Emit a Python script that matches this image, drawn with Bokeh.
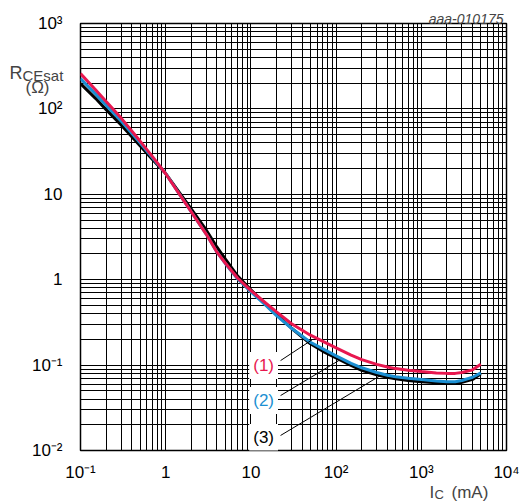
from bokeh.plotting import figure
from bokeh.models import FixedTicker, Label, Range1d
from bokeh.embed import file_html
from bokeh.resources import INLINE

# Collector current I_C (mA)
ic = [0.1, 0.15, 0.2, 0.3, 0.5, 0.7, 1, 1.5, 2, 3, 4, 5, 7, 10, 15, 20, 30,
      50, 70, 100, 150, 200, 300, 400, 500, 700, 1000, 1500, 2000, 2500, 3000,
      4000, 5000]
# R_CEsat (Ohm) for the three conditions
r1 = [260, 168, 122, 78, 42, 27.6, 17.4, 9.5, 6.2, 3.4, 2.1, 1.57, 1.04, 0.745,
      0.53, 0.42, 0.305, 0.224, 0.19, 0.159, 0.131, 0.116, 0.102, 0.095, 0.091,
      0.087, 0.084, 0.081, 0.080, 0.080, 0.082, 0.088, 0.102]
r2 = [227, 150, 110, 72, 40, 26.8, 17.5, 9.5, 6.2, 3.4, 2.1, 1.55, 1.02, 0.72,
      0.50, 0.38, 0.27, 0.185, 0.155, 0.128, 0.105, 0.093, 0.082, 0.076, 0.073,
      0.070, 0.068, 0.065, 0.064, 0.064, 0.066, 0.072, 0.081]
r3 = [198, 133, 98, 65, 37, 25.5, 17.5, 10.0, 6.7, 3.8, 2.4, 1.75, 1.10, 0.76,
      0.51, 0.39, 0.27, 0.178, 0.145, 0.121, 0.099, 0.087, 0.077, 0.072, 0.069,
      0.066, 0.064, 0.062, 0.061, 0.061, 0.063, 0.068, 0.079]

series_names = ["(1)", "(2)", "(3)"]
series_colors = ["#e8174f", "#1b8fd2", "#000000"]

x_major = [0.1, 1, 10, 100, 1000, 10000]
x_labels = ["10⁻¹", "1", "10", "10²", "10³", "10⁴"]
y_major = [0.01, 0.1, 1, 10, 100, 1000]
y_labels = ["10⁻²", "10⁻¹", "1", "10", "10²", "10³"]

def minors(majors):
    out = []
    for m in majors[:-1]:
        for k in range(2, 10):
            out.append(round(m * k, 6))
    return out

FONT = "Liberation Sans"
FL, FT, FW, FH = 80, 23, 426, 427   # frame box in canvas pixels

def px2data(cx, cy):
    return (10 ** ((cx - FL) / (FW / 5) - 1), 10 ** (3 - (cy - FT) / (FH / 5)))

p = figure(width=523, height=503, x_axis_type="log", y_axis_type="log",
           x_range=Range1d(0.1, 10000), y_range=Range1d(0.01, 1000),
           output_backend="svg", toolbar_location=None,
           min_border_left=FL, min_border_right=17, min_border_top=FT,
           min_border_bottom=53)
p.frame_width = FW
p.frame_height = FH
p.background_fill_color = "white"
p.border_fill_color = "white"
p.outline_line_color = "black"
p.outline_line_width = 1.5

p.xaxis.ticker = FixedTicker(ticks=x_major, minor_ticks=minors(x_major))
p.yaxis.ticker = FixedTicker(ticks=y_major, minor_ticks=minors(y_major))
p.xaxis.major_label_overrides = dict(zip(x_major, x_labels))
p.yaxis.major_label_overrides = dict(zip(y_major, y_labels))
for ax in (p.xaxis, p.yaxis):
    ax.axis_line_color = None
    ax.major_tick_line_color = None
    ax.minor_tick_line_color = None
    ax.major_label_text_font = FONT
    ax.major_label_text_font_size = "17px"
    ax.major_label_text_color = "black"
p.xaxis.major_label_standoff = 6
p.yaxis.major_label_standoff = 12

for g in (p.xgrid, p.ygrid):
    g.grid_line_color = "black"
    g.grid_line_width = 1
    g.minor_grid_line_color = "black"
    g.minor_grid_line_width = 1

# curves (black below, red on top)
p.line(ic, r3, line_color=series_colors[2], line_width=3)
p.line(ic, r2, line_color=series_colors[1], line_width=3)
p.line(ic, r1, line_color=series_colors[0], line_width=3)

# leader lines from labels to curves
leaders = [([22.3, 52.4], [0.113, 0.198]),
           ([22.3, 107.6], [0.044, 0.113]),
           ([22.3, 332.0], [0.015, 0.0755])]
for lx, ly in leaders:
    p.line(lx, ly, line_color="black", line_width=1)

label_pos = [(14.1, 0.099), (14.1, 0.0385), (14.1, 0.0142)]
for (lx, ly), name, col in zip(label_pos, series_names, series_colors):
    p.add_layout(Label(x=lx, y=ly, text=name, text_color=col, text_font=FONT,
                       text_font_size="17px", text_align="center",
                       text_baseline="middle", background_fill_color="white",
                       padding=4))

def olabel(cx, cy, text, size, **kw):
    # text outside the frame: held in the right side panel (not clipped),
    # positioned through the plot's data scales
    x, y = px2data(cx, cy)
    p.add_layout(Label(x=x, y=y, text=text, text_font=FONT,
                       text_font_size=size, **kw), "right")

# y axis title
olabel(9, 72, "R", "18px", text_baseline="alphabetic")
olabel(22, 75, "CEsat", "15px", text_baseline="alphabetic")
olabel(37, 87, "(Ω)", "17px", text_align="center", text_baseline="middle")
# x axis title
olabel(429, 492, "I", "17px", text_baseline="alphabetic")
olabel(434, 494, "C", "13px", text_baseline="alphabetic")
olabel(451, 492, "(mA)", "17px", text_baseline="alphabetic")
# figure id
olabel(503, 18, "aaa-010175", "14px", text_align="right",
       text_baseline="alphabetic", text_font_style="italic")

open("out.html", "w").write(file_html(p, INLINE))
